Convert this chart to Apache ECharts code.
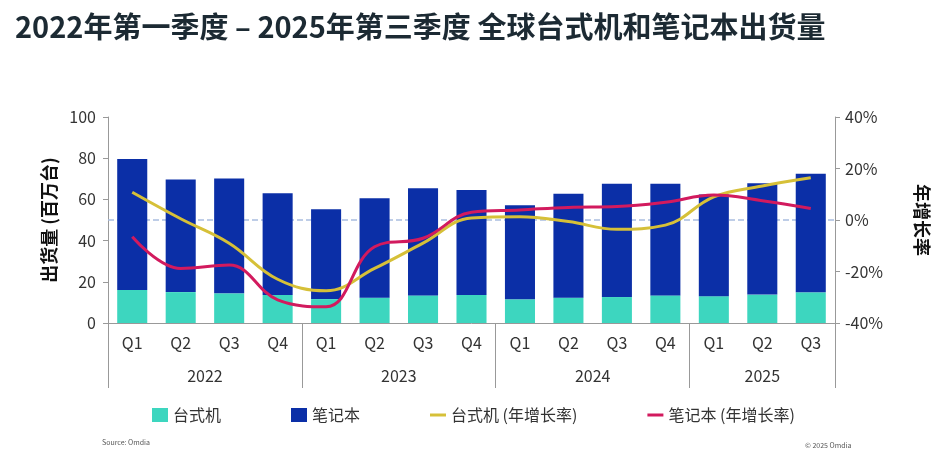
<!DOCTYPE html>
<html>
<head>
<meta charset="utf-8">
<script src="https://cdn.jsdelivr.net/npm/echarts@6/dist/echarts.min.js"></script>
<style>
  html, body { margin: 0; padding: 0; background: #fff; }
  #chart { width: 940px; height: 459px; }
</style>
</head>
<body>
<div id="chart"></div>
<script>
// 数据
const years = ['2022', '2023', '2024', '2025'];
const quartersPerYear = [4, 4, 4, 3];
const quarters = ['Q1', 'Q2', 'Q3', 'Q4', 'Q1', 'Q2', 'Q3', 'Q4', 'Q1', 'Q2', 'Q3', 'Q4', 'Q1', 'Q2', 'Q3'];

const desktop = [16.0, 15.0, 14.4, 13.6, 11.6, 12.3, 13.4, 13.6, 11.5, 12.3, 12.6, 13.4, 13.0, 13.8, 14.9];
const notebook = [63.6, 54.7, 55.8, 49.4, 43.6, 48.2, 52.0, 51.0, 45.6, 50.5, 55.0, 54.2, 49.4, 54.0, 57.6];
const desktopYoY = [10.8, 0.5, -9.0, -23.0, -27.5, -18.8, -9.0, 0.8, 1.3, -0.6, -3.6, -2.0, 9.0, 13.2, 16.4];
const notebookYoY = [-6.5, -18.8, -17.5, -31.0, -33.7, -10.4, -7.1, 3.0, 3.9, 4.9, 5.2, 6.9, 9.7, 7.5, 4.5];

const FONT = '"Noto Sans CJK SC", "Noto Sans", sans-serif';

// 年份轴: 每个季度分成两个半格, 共 2N+1 个点
const halfCount = quarters.length * 2 + 1;
const yearAxisData = new Array(halfCount).fill('');
const yearBounds = [0];
let pos = 0;
years.forEach((y, i) => {
    const n = quartersPerYear[i];
    yearAxisData[pos + n] = y;   // 年份中心
    pos += n * 2;
    yearBounds.push(pos);
});

const chart = echarts.init(document.getElementById('chart'));

const option = {
    backgroundColor: '#fff',
    textStyle: { fontFamily: FONT },
    title: [{
        text: '2022年第一季度 – 2025年第三季度 全球台式机和笔记本出货量',
        left: 10,
        top: 7,
        textStyle: { fontSize: 29, fontWeight: 'bold', color: '#1c2a33', fontFamily: FONT }
    }, {
        text: 'Source: Omdia',
        left: 97,
        top: 434,
        textStyle: { fontSize: 7, fontWeight: 'normal', color: '#555' }
    }, {
        text: '© 2025 Omdia',
        left: 800,
        top: 437,
        textStyle: { fontSize: 7, fontWeight: 'normal', color: '#555' }
    }],
    legend: {
        left: 147,
        top: 402,
        itemGap: 70,
        itemWidth: 16,
        itemHeight: 14,
        textStyle: { fontSize: 16, color: '#333', fontFamily: FONT },
        data: [
            { name: '台式机', icon: 'rect' },
            { name: '笔记本', icon: 'rect' },
            { name: '台式机 (年增长率)', icon: 'path://M0,6 L16,6 L16,9 L0,9 Z' },
            { name: '笔记本 (年增长率)', icon: 'path://M0,6 L16,6 L16,9 L0,9 Z' }
        ]
    },
    grid: { left: 108, right: 105, top: 117, bottom: 136 },
    xAxis: [{
        type: 'category',
        data: quarters,
        position: 'bottom',
        axisLine: { onZero: false, lineStyle: { color: '#999', width: 1 } },
        axisTick: { show: false },
        axisLabel: { fontSize: 16, color: '#333', margin: 12 }
    }, {
        type: 'category',
        data: yearAxisData,
        boundaryGap: false,
        position: 'bottom',
        axisLine: { show: false, onZero: false },
        axisTick: {
            show: true,
            length: 65,
            interval: (idx) => yearBounds.includes(idx),
            lineStyle: { color: '#999', width: 1 }
        },
        axisLabel: {
            fontSize: 16,
            color: '#333',
            margin: 45,
            interval: 0
        }
    }],
    yAxis: [{
        type: 'value',
        min: 0,
        max: 100,
        interval: 20,
        name: '出货量 (百万台)',
        nameLocation: 'middle',
        nameRotate: 90,
        nameGap: 50,
        nameTextStyle: { fontSize: 18, fontWeight: 'bold', color: '#111' },
        axisLine: { show: true, lineStyle: { color: '#999' } },
        axisTick: { show: true, length: 5, lineStyle: { color: '#999' } },
        axisLabel: { fontSize: 16, color: '#333', margin: 12 },
        splitLine: { show: false }
    }, {
        type: 'value',
        min: -40,
        max: 40,
        interval: 20,
        name: '年增长率',
        nameLocation: 'middle',
        nameRotate: -90,
        nameGap: 78,
        nameTextStyle: { fontSize: 18, fontWeight: 'bold', color: '#111' },
        axisLine: { show: true, lineStyle: { color: '#999' } },
        axisTick: { show: true, length: 5, lineStyle: { color: '#999' } },
        axisLabel: { fontSize: 16, color: '#333', margin: 10, formatter: '{value}%' },
        splitLine: { show: false }
    }],
    series: [{
        name: '台式机',
        type: 'bar',
        stack: 'total',
        barWidth: '62%',
        itemStyle: { color: '#3dd6bf' },
        data: desktop
    }, {
        name: '笔记本',
        type: 'bar',
        stack: 'total',
        barWidth: '62%',
        itemStyle: { color: '#0b2fa7' },
        data: notebook
    }, {
        name: '台式机 (年增长率)',
        type: 'line',
        yAxisIndex: 1,
        smooth: 0.4,
        symbol: 'none',
        lineStyle: { color: '#d6c038', width: 3 },
        itemStyle: { color: '#d6c038' },
        data: desktopYoY,
        markLine: {
            silent: true,
            symbol: 'none',
            label: { show: false },
            lineStyle: { color: '#a9bde0', type: 'dashed', width: 1.5 },
            data: [{ yAxis: 0 }],
            z: 1
        }
    }, {
        name: '笔记本 (年增长率)',
        type: 'line',
        yAxisIndex: 1,
        smooth: 0.4,
        symbol: 'none',
        lineStyle: { color: '#d21a5e', width: 3 },
        itemStyle: { color: '#d21a5e' },
        data: notebookYoY
    }]
};

chart.setOption(option);
</script>
</body>
</html>
